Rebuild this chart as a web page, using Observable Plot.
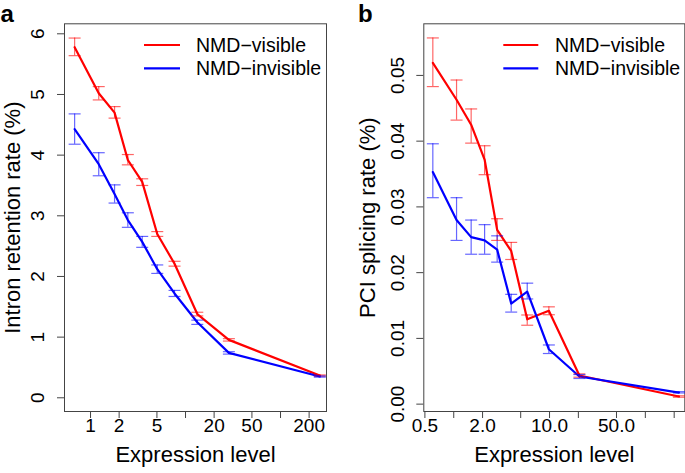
<!DOCTYPE html>
<html>
<head>
<meta charset="utf-8">
<script src="https://cdn.jsdelivr.net/npm/d3@7"></script>
<script src="https://cdn.jsdelivr.net/npm/@observablehq/plot@0.6"></script>
<style>
  html, body { margin: 0; padding: 0; background: #fff; }
  #wrap { position: relative; width: 685px; height: 473px; font-family: "Liberation Sans", Arial, Helvetica, sans-serif; }
  .panel { position: absolute; top: 0; }
  svg.legend { position: absolute; top: 0; left: 0; overflow: visible; }
</style>
</head>
<body>
<div id="wrap"></div>
<script>
// ---------- data ----------
const seriesNames = ["NMD\u2212visible", "NMD\u2212invisible"];
const seriesColors = ["#FF0000", "#0000FF"];

// Panel a: intron retention
const xA = [0.68, 1.22, 1.79, 2.47, 3.50, 5.04, 7.66, 13.3, 28.6, 259];
const visA   = [5.78, 5.02, 4.70, 3.92, 3.56, 2.70, 2.21, 1.38, 0.955, 0.367];
const visALo = [5.64, 4.91, 4.61, 3.84, 3.50, 2.66, 2.17, 1.35, 0.935, 0.357];
const visAHi = [5.93, 5.13, 4.80, 4.01, 3.61, 2.74, 2.25, 1.41, 0.975, 0.377];
const invA   = [4.43, 3.85, 3.36, 2.93, 2.57, 2.12, 1.72, 1.245, 0.74, 0.35];
const invALo = [4.18, 3.66, 3.21, 2.81, 2.48, 2.05, 1.67, 1.21, 0.72, 0.34];
const invAHi = [4.68, 4.04, 3.51, 3.05, 2.66, 2.19, 1.77, 1.28, 0.76, 0.36];
const xTicksA = [1, 2, 5, 10, 20, 50, 100, 200];
const xLabelsA = ["1", "2", "5", "", "20", "50", "", "200"];
const yTicksA = [0, 1, 2, 3, 4, 5, 6];
const yLabelsA = ["0", "1", "2", "3", "4", "5", "6"];

// Panel b: PCI splicing
const xB = [0.605, 1.07, 1.52, 2.10, 2.84, 3.98, 5.85, 9.84, 20.5, 224];
const visB   = [0.0519, 0.0463, 0.0425, 0.0372, 0.0265, 0.0233, 0.0129, 0.0142, 0.00435, 0.00116];
const visBLo = [0.0483, 0.0432, 0.0397, 0.0349, 0.0249, 0.0220, 0.0120, 0.0136, 0.0041, 0.00105];
const visBHi = [0.0557, 0.0493, 0.0449, 0.0393, 0.0282, 0.0246, 0.01356, 0.0148, 0.0046, 0.00127];
const invB   = [0.0353, 0.0280, 0.0254, 0.0249, 0.0235, 0.0153, 0.0171, 0.00835, 0.0042, 0.00176];
const invBLo = [0.0314, 0.0249, 0.0228, 0.0228, 0.0216, 0.0140, 0.0160, 0.0077, 0.0039, 0.0017];
const invBHi = [0.0396, 0.0314, 0.0280, 0.0273, 0.0256, 0.0167, 0.0184, 0.0090, 0.0045, 0.0019];
const xTicksB = [0.5, 1, 2, 5, 10, 20, 50, 100, 200];
const xLabelsB = ["0.5", "", "2.0", "", "10.0", "", "50.0", "", ""];
const yTicksB = [0, 0.01, 0.02, 0.03, 0.04, 0.05];
const yLabelsB = ["0.00", "0.01", "0.02", "0.03", "0.04", "0.05"];

// ---------- helpers ----------
const FONT = "'Liberation Sans', Arial, Helvetica, sans-serif";
function rows(x, y, lo, hi, s) {
  return x.map((v, i) => ({x: v, y: y[i], lo: lo[i], hi: hi[i], s}));
}
const capSymbol = {draw(ctx) { ctx.moveTo(-6, 0); ctx.lineTo(6, 0); }};

function panel(opts) {
  const data = [
    ...rows(opts.x, opts.vis, opts.visLo, opts.visHi, seriesNames[0]),
    ...rows(opts.x, opts.inv, opts.invLo, opts.invHi, seriesNames[1])
  ];
  const xLab = opts.xTicks.map((t, i) => ({t, label: opts.xLabels[i]})).filter(d => d.label !== "");
  const yLab = opts.yTicks.map((t, i) => ({t, label: opts.yLabels[i]}));
  return Plot.plot({
    width: opts.width, height: 473,
    marginLeft: opts.ml, marginRight: opts.mr, marginTop: 23.3, marginBottom: 62,
    style: {fontFamily: FONT, fontSize: "19px", color: "#000", background: "transparent", overflow: "visible"},
    x: {type: "log", domain: opts.xDomain, label: null},
    y: {domain: opts.yDomain, label: null},
    color: {domain: seriesNames, range: seriesColors},
    marks: [
      Plot.frame({stroke: "#444", strokeWidth: 1}),
      Plot.axisX({ticks: opts.xTicks, tickSize: 7, stroke: "#444", tickFormat: () => "", label: null}),
      Plot.axisY({ticks: opts.yTicks, tickSize: 7, stroke: "#444", tickFormat: () => "", label: null}),
      Plot.text(xLab, {x: "t", text: "label", frameAnchor: "bottom", dy: 20.5,
                       textAnchor: "middle", fontSize: 19, fill: "#000"}),
      Plot.text(yLab, {y: "t", text: "label", frameAnchor: "left", dx: opts.yLabDx, rotate: -90,
                       textAnchor: "middle", fontSize: 19, fill: "#000"}),
      Plot.text([opts.yTitle], {frameAnchor: "left", dx: opts.yTitleDx, rotate: -90,
                       textAnchor: "middle", fontSize: 22, fill: "#000"}),
      Plot.text(["Expression level"], {frameAnchor: "bottom", dy: 50, textAnchor: "middle",
                       fontSize: 22, fill: "#000"}),
      Plot.line(data, {x: "x", y: "y", z: "s", stroke: "s", strokeWidth: 2.2}),
      Plot.ruleX(data, {x: "x", y1: "lo", y2: "hi", stroke: "s", strokeWidth: 1.2, strokeOpacity: 0.6}),
      Plot.dot(data, {x: "x", y: "lo", stroke: "s", symbol: capSymbol, r: 5, strokeWidth: 1.2, strokeOpacity: 0.6}),
      Plot.dot(data, {x: "x", y: "hi", stroke: "s", symbol: capSymbol, r: 5, strokeWidth: 1.2, strokeOpacity: 0.6})
    ]
  });
}

const wrap = document.getElementById("wrap");

const pa = panel({
  width: 342, ml: 64, mr: 16,
  x: xA, vis: visA, visLo: visALo, visHi: visAHi, inv: invA, invLo: invALo, invHi: invAHi,
  xTicks: xTicksA, xLabels: xLabelsA, yTicks: yTicksA, yLabels: yLabelsA,
  xDomain: [0.532, 304.8], yDomain: [-0.226, 6.165],
  yTitle: "Intron retention rate (%)", yLabDx: -26.5, yTitleDx: -52
});
pa.classList.add("panel"); pa.style.left = "0px";
wrap.appendChild(pa);

const pb = panel({
  width: 343, ml: 81.3, mr: 0.7,
  x: xB, vis: visB, visLo: visBLo, visHi: visBHi, inv: invB, invLo: invBLo, invHi: invBHi,
  xTicks: xTicksB, xLabels: xLabelsB, yTicks: yTicksB, yLabels: yLabelsB,
  xDomain: [0.487, 258.2], yDomain: [-0.00112, 0.05785],
  yTitle: "PCI splicing rate (%)", yLabDx: -25.5, yTitleDx: -55.5
});
pb.classList.add("panel"); pb.style.left = "342px";
wrap.appendChild(pb);

// legends (R legend, no box) and panel tags
const ns = "http://www.w3.org/2000/svg";
const leg = document.createElementNS(ns, "svg");
leg.setAttribute("class", "legend");
leg.setAttribute("width", 685); leg.setAttribute("height", 473);
const legendPos = [{x1: 144, x2: 180, tx: 196}, {x1: 503.3, x2: 538.3, tx: 555}];
const legendY = [45, 68.3];
legendPos.forEach(p => {
  seriesNames.forEach((name, i) => {
    const ln = document.createElementNS(ns, "line");
    ln.setAttribute("x1", p.x1); ln.setAttribute("x2", p.x2);
    ln.setAttribute("y1", legendY[i]); ln.setAttribute("y2", legendY[i]);
    ln.setAttribute("stroke", seriesColors[i]); ln.setAttribute("stroke-width", 2.2);
    leg.appendChild(ln);
    const tx = document.createElementNS(ns, "text");
    tx.setAttribute("x", p.tx); tx.setAttribute("y", legendY[i] + 7);
    tx.setAttribute("font-size", 19.5); tx.setAttribute("font-family", FONT);
    tx.textContent = name;
    leg.appendChild(tx);
  });
});
[["a", 0.5, 22], ["b", 358, 22]].forEach(([t, x, y]) => {
  const tx = document.createElementNS(ns, "text");
  tx.setAttribute("x", x); tx.setAttribute("y", y);
  tx.setAttribute("font-size", 24); tx.setAttribute("font-weight", "bold");
  tx.setAttribute("font-family", FONT);
  tx.textContent = t;
  leg.appendChild(tx);
});
wrap.appendChild(leg);
</script>
</body>
</html>
